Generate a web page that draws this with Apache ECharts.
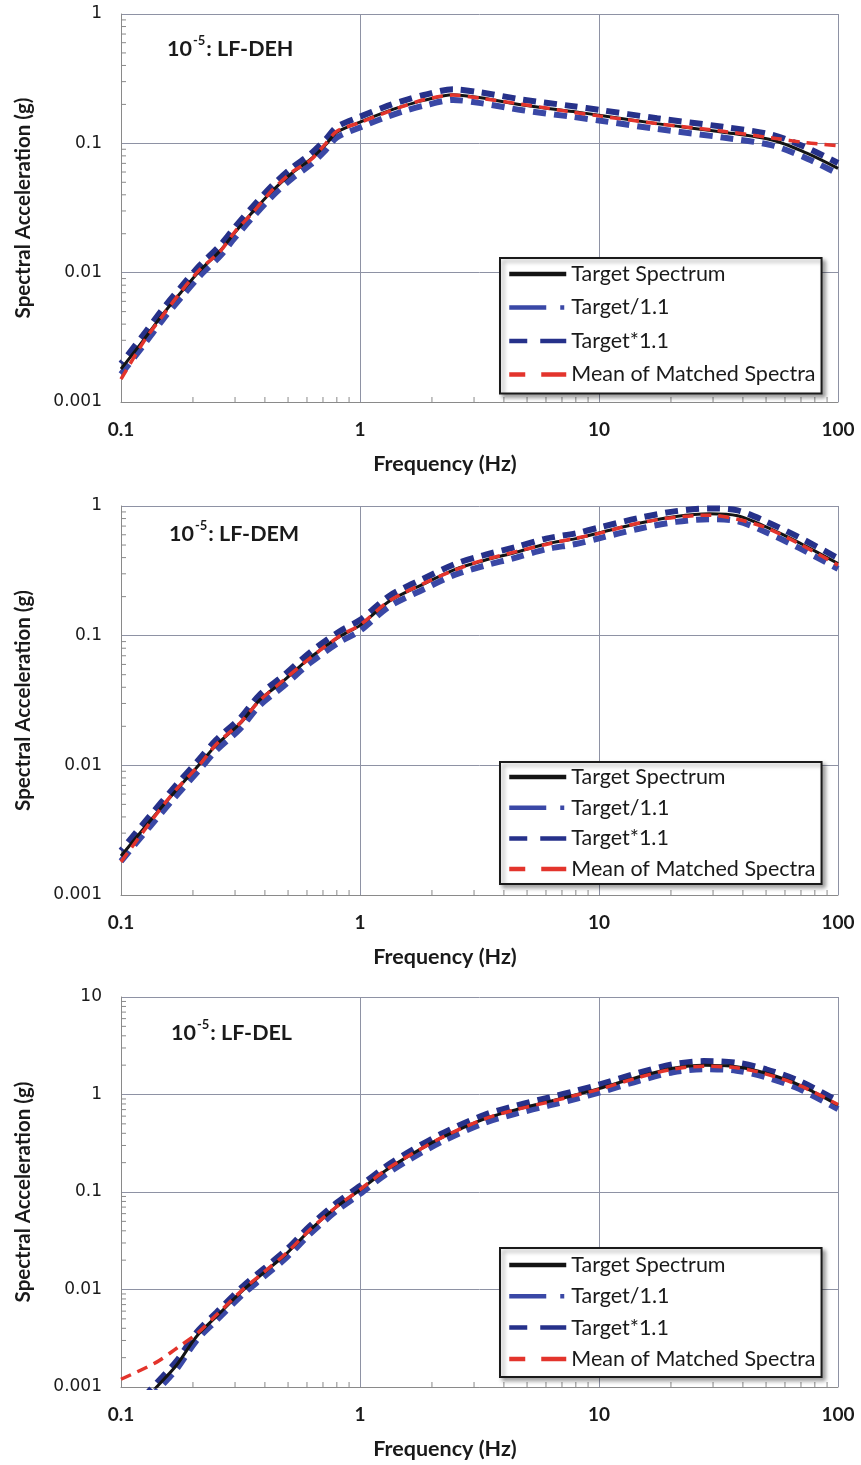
<!DOCTYPE html>
<html>
<head>
<meta charset="utf-8">
<script src="https://cdn.jsdelivr.net/npm/echarts@6/dist/echarts.min.js"></script>
<style>
html,body{margin:0;padding:0;background:#fff;}
#chart{width:861px;height:1465px;}
</style>
</head>
<body>
<div id="chart"></div>
<script>
// ---------- DATA ----------
const freqTickLabels = ['0.1', '1', '10', '100'];
const yTickLabelsA = ['0.001', '0.01', '0.1', '1'];
const yTickLabelsB = ['0.001', '0.01', '0.1', '1', '10'];
const legendNames = ['Target Spectrum', 'Target/1.1', 'Target*1.1', 'Mean of Matched Spectra'];
const panelTitles = ['LF-DEH', 'LF-DEM', 'LF-DEL'];

// Panel 1: LF-DEH
const freq1 = [0.1, 0.124, 0.15, 0.18, 0.214, 0.26, 0.3, 0.35, 0.43, 0.52, 0.62, 0.72, 0.8, 1.0, 1.25, 1.5, 1.85, 2.45, 3.2, 4.8, 7.8, 10, 17.5, 33, 53, 74, 100];
const target1 = [0.0018, 0.003, 0.0048, 0.0072, 0.0104, 0.0148, 0.0205, 0.0285, 0.043, 0.059, 0.075, 0.098, 0.122, 0.146, 0.172, 0.193, 0.215, 0.238, 0.225, 0.198, 0.176, 0.165, 0.142, 0.122, 0.106, 0.084, 0.064];
const lower1 = [0.00164, 0.00273, 0.00436, 0.00655, 0.00945, 0.01345, 0.01864, 0.0259, 0.0391, 0.0536, 0.0682, 0.0891, 0.1109, 0.1327, 0.1564, 0.1755, 0.1955, 0.2164, 0.2045, 0.18, 0.16, 0.15, 0.1291, 0.1109, 0.0964, 0.0764, 0.0582];
const upper1 = [0.00198, 0.0033, 0.00528, 0.00792, 0.01144, 0.01628, 0.02255, 0.03135, 0.0473, 0.0649, 0.0825, 0.1078, 0.1342, 0.1606, 0.1892, 0.2123, 0.2365, 0.2618, 0.2475, 0.2178, 0.1936, 0.1815, 0.1562, 0.1342, 0.1166, 0.0924, 0.0704];
const mean1 = [0.0015, 0.0029, 0.0047, 0.0073, 0.0106, 0.0146, 0.0208, 0.0282, 0.0435, 0.06, 0.074, 0.1, 0.124, 0.145, 0.17, 0.192, 0.217, 0.236, 0.223, 0.2, 0.174, 0.163, 0.142, 0.124, 0.11, 0.101, 0.096];

// Panel 2: LF-DEM
const freq2 = [0.1, 0.132, 0.165, 0.214, 0.25, 0.315, 0.38, 0.48, 0.62, 0.82, 1.0, 1.33, 1.84, 2.5, 3.3, 4.5, 6.0, 8.0, 10, 14.7, 21, 29, 38, 50, 69, 100];
const target2 = [0.002, 0.0037, 0.006, 0.0103, 0.0143, 0.021, 0.0318, 0.045, 0.068, 0.098, 0.12, 0.185, 0.25, 0.325, 0.38, 0.44, 0.51, 0.56, 0.62, 0.735, 0.83, 0.87, 0.84, 0.69, 0.52, 0.36];
const lower2 = [0.00182, 0.00336, 0.00545, 0.00936, 0.013, 0.0191, 0.0289, 0.0409, 0.0618, 0.0891, 0.1091, 0.1682, 0.2273, 0.2955, 0.3455, 0.4, 0.4636, 0.5091, 0.5636, 0.6682, 0.7545, 0.7909, 0.7636, 0.6273, 0.4727, 0.3273];
const upper2 = [0.0022, 0.00407, 0.0066, 0.01133, 0.01573, 0.0231, 0.035, 0.0495, 0.0748, 0.1078, 0.132, 0.2035, 0.275, 0.3575, 0.418, 0.484, 0.561, 0.616, 0.682, 0.8085, 0.913, 0.957, 0.924, 0.759, 0.572, 0.396];
const mean2 = [0.0018, 0.0036, 0.0061, 0.0102, 0.0145, 0.0212, 0.0315, 0.0455, 0.0675, 0.099, 0.121, 0.186, 0.252, 0.322, 0.383, 0.445, 0.505, 0.565, 0.615, 0.74, 0.82, 0.85, 0.79, 0.68, 0.51, 0.35];

// Panel 3: LF-DEL
const freq3 = [0.1, 0.141, 0.171, 0.207, 0.251, 0.325, 0.394, 0.494, 0.617, 0.8, 1.0, 1.29, 1.67, 2.24, 3.3, 4.5, 6.2, 8.1, 10, 14.7, 20.4, 27.4, 37.6, 50, 69, 100];
const target3 = [0.0004, 0.001, 0.00168, 0.0033, 0.0053, 0.0099, 0.0147, 0.0235, 0.0407, 0.0707, 0.105, 0.168, 0.249, 0.369, 0.56, 0.7, 0.85, 1.0, 1.15, 1.52, 1.86, 2.0, 1.93, 1.65, 1.25, 0.78];
const lower3 = [0.00036, 0.00091, 0.00153, 0.003, 0.00482, 0.009, 0.01336, 0.02136, 0.037, 0.0643, 0.0955, 0.1527, 0.2264, 0.3355, 0.5091, 0.6364, 0.7727, 0.9091, 1.045, 1.382, 1.691, 1.818, 1.755, 1.5, 1.136, 0.709];
const upper3 = [0.00044, 0.0011, 0.00185, 0.00363, 0.00583, 0.01089, 0.01617, 0.02585, 0.04477, 0.07777, 0.1155, 0.1848, 0.2739, 0.4059, 0.616, 0.77, 0.935, 1.1, 1.265, 1.672, 2.046, 2.2, 2.123, 1.815, 1.375, 0.858];
const mean3 = [0.0012, 0.0018, 0.0025, 0.0035, 0.0055, 0.0101, 0.0149, 0.0238, 0.041, 0.071, 0.106, 0.17, 0.25, 0.37, 0.56, 0.7, 0.84, 0.99, 1.13, 1.5, 1.82, 1.95, 1.88, 1.62, 1.24, 0.79];

// ---------- LAYOUT / STYLE ----------
const panels = [
  {freq: freq1, target: target1, lower: lower1, upper: upper1, mean: mean1, yMin: 0.001, yMax: 1, yLabels: yTickLabelsA,
   grid: {left: 121, top: 14, width: 717, height: 388}, titlePos: {left: 167, top: 34},
   legend: {top: 258, gap: 11.5, pad: [5, 6, 8, 7]}},
  {freq: freq2, target: target2, lower: lower2, upper: upper2, mean: mean2, yMin: 0.001, yMax: 1, yLabels: yTickLabelsA,
   grid: {left: 121, top: 506, width: 717, height: 389}, titlePos: {left: 169, top: 519},
   legend: {top: 762, gap: 8.7, pad: [4, 6, 4, 7]}},
  {freq: freq3, target: target3, lower: lower3, upper: upper3, mean: mean3, yMin: 0.001, yMax: 10, yLabels: yTickLabelsB,
   grid: {left: 121, top: 997, width: 717, height: 390}, titlePos: {left: 171, top: 1018},
   legend: {top: 1248, gap: 9.3, pad: [6, 6, 7, 7]}}
];

const C_TARGET = '#141414';
const C_LOWER = '#3a48a6';
const C_UPPER = '#26318a';
const C_MEAN = '#e3342c';
const GRID_C = '#8e92a4';
const TXT = '#1a1a1a';
const NOFILL = {color: 'rgba(0,0,0,0)', borderColor: 'rgba(0,0,0,0)', borderWidth: 0};

function labelFor(list) {
  return function (v) {
    for (const l of list) {
      if (Math.abs(Math.log10(parseFloat(l)) - Math.log10(v)) < 1e-6) return l;
    }
    return '';
  };
}
function pairs(xs, ys) { return xs.map((x, i) => [x, ys[i]]); }

const option = {
  backgroundColor: '#fff',
  animation: false,
  grid: [], xAxis: [], yAxis: [], series: [], legend: [], title: []
};

panels.forEach((p, gi) => {
  option.grid.push(Object.assign({containLabel: false}, p.grid));
  option.xAxis.push({
    type: 'log', logBase: 10, gridIndex: gi, min: 0.1, max: 100,
    name: 'Frequency (Hz)', nameLocation: 'middle', nameGap: 51,
    nameTextStyle: {fontFamily: 'Lato', fontWeight: 'bold', fontSize: 21.5, color: TXT, padding: [0, 69, 0, 0]},
    axisLine: {show: true, lineStyle: {color: '#8a8a8a', width: 1}},
    axisTick: {show: false},
    axisLabel: {margin: 18, fontFamily: 'Lato', fontWeight: 'bold', fontSize: 19, color: TXT, formatter: labelFor(freqTickLabels)},
    splitLine: {show: true, lineStyle: {color: GRID_C, width: 1}}
  });
  option.yAxis.push({
    type: 'log', logBase: 10, gridIndex: gi, min: p.yMin, max: p.yMax,
    name: 'Spectral Acceleration (g)', nameLocation: 'middle', nameGap: 87,
    nameTextStyle: {fontFamily: 'Lato', fontWeight: 'bold', fontSize: 20.5, color: TXT},
    axisLine: {show: true, lineStyle: {color: '#8a8a8a', width: 1}},
    axisTick: {show: false},
    axisLabel: {margin: 19, fontFamily: 'DejaVu Sans', fontSize: 17, color: TXT, formatter: labelFor(p.yLabels)},
    splitLine: {show: true, lineStyle: {color: GRID_C, width: 1}}
  });

  // minor ticks (2..9 in each decade), drawn through the axes' scales
  const mt = [];
  for (let k = -1; k < 2; k++) for (let m = 2; m <= 9; m++) mt.push([m * Math.pow(10, k), p.yMin, 0]);
  const kMin = Math.round(Math.log10(p.yMin)), kMax = Math.round(Math.log10(p.yMax));
  for (let k = kMin; k < kMax; k++) for (let m = 2; m <= 9; m++) mt.push([0.1, m * Math.pow(10, k), 1]);
  option.series.push({
    type: 'custom', xAxisIndex: gi, yAxisIndex: gi, silent: true, z: 1, clip: false,
    data: mt,
    renderItem: function (params, api) {
      const pt = api.coord([api.value(0), api.value(1)]);
      const isY = api.value(2) === 1;
      return {
        type: 'line',
        shape: isY ? {x1: pt[0], y1: pt[1], x2: pt[0] + 5, y2: pt[1]} : {x1: pt[0], y1: pt[1], x2: pt[0], y2: pt[1] - 5},
        style: {stroke: '#8a8a8a', lineWidth: 1}
      };
    }
  });

  const common = {type: 'line', xAxisIndex: gi, yAxisIndex: gi, symbol: 'none', showSymbol: false, smooth: 0.3, clip: true, silent: true};
  option.series.push(Object.assign({}, common, {name: 'Target/1.1', z: 2, data: pairs(p.freq, p.lower),
    lineStyle: {color: C_LOWER, width: 6, type: [13, 8]}, itemStyle: {color: C_LOWER}}));
  option.series.push(Object.assign({}, common, {name: 'Target*1.1', z: 2, data: pairs(p.freq, p.upper),
    lineStyle: {color: C_UPPER, width: 6, type: [13, 8], dashOffset: 10}, itemStyle: {color: C_UPPER}}));
  option.series.push(Object.assign({}, common, {name: 'Target Spectrum', z: 3, data: pairs(p.freq, p.target),
    lineStyle: {color: C_TARGET, width: 3}, itemStyle: {color: C_TARGET}}));
  option.series.push(Object.assign({}, common, {name: 'Mean of Matched Spectra', z: 4, data: pairs(p.freq, p.mean),
    lineStyle: {color: C_MEAN, width: 3.5, type: [11, 7]}, itemStyle: {color: C_MEAN}}));

  option.legend.push({
    orient: 'vertical', left: 500, top: p.legend.top,
    itemWidth: 57, itemHeight: 20, itemGap: p.legend.gap, padding: p.legend.pad,
    backgroundColor: '#fff', borderColor: '#1a1a1a', borderWidth: 2, borderRadius: 0,
    shadowColor: 'rgba(0,0,0,0.35)', shadowBlur: 4, shadowOffsetX: 3, shadowOffsetY: 3,
    selectedMode: false,
    textStyle: {fontFamily: 'Lato', fontSize: 21.5, color: TXT, lineHeight: 20},
    data: [
      {name: legendNames[0], itemStyle: NOFILL, lineStyle: {color: C_TARGET, width: 4.5, type: 'solid', dashOffset: 0}},
      {name: legendNames[1], itemStyle: NOFILL, lineStyle: {color: C_LOWER, width: 4.5, type: [37, 14, 4, 10], dashOffset: 0}},
      {name: legendNames[2], itemStyle: NOFILL, lineStyle: {color: C_UPPER, width: 4.5, type: [18, 13, 26, 10], dashOffset: 0}},
      {name: legendNames[3], itemStyle: NOFILL, lineStyle: {color: C_MEAN, width: 4.5, type: [16, 16, 25, 10], dashOffset: 0}}
    ]
  });

  option.title.push({
    left: p.titlePos.left, top: p.titlePos.top, padding: 0,
    text: '{a|10}{s|-5}{a|: ' + panelTitles[gi] + '}',
    textStyle: {
      rich: {
        a: {fontFamily: 'Lato', fontWeight: 'bold', fontSize: 21.5, color: TXT, lineHeight: 26, verticalAlign: 'bottom'},
        s: {fontFamily: 'Lato', fontWeight: 'bold', fontSize: 13, color: TXT, lineHeight: 26, verticalAlign: 'top', padding: [0, 1, 0, 1]}
      }
    }
  });
});

const chart = echarts.init(document.getElementById('chart'), null, {renderer: 'canvas'});
chart.setOption(option);
</script>
</body>
</html>
